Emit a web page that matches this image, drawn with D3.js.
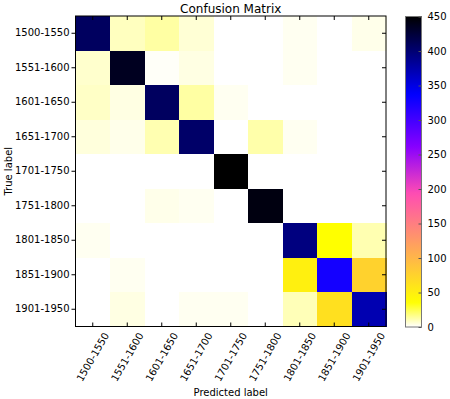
<!DOCTYPE html>
<html>
<head>
<meta charset="utf-8">
<script src="https://cdn.jsdelivr.net/npm/d3@7"></script>
<style>
    body { margin: 0; background: #fff; }
    svg { display: block; font-family: 'DejaVu Sans', sans-serif; }
    text { fill: #000; }
</style>
</head>
<body>
<svg width="450" height="399"></svg>
<script>
(function () {
    var labels = ['1500-1550', '1551-1600', '1601-1650', '1651-1700', '1701-1750',
        '1751-1800', '1801-1850', '1851-1900', '1901-1950'];

    // rows = true label, columns = predicted label
    var row1500 = [408, 9, 13, 6, 0, 0, 2, 0, 3];
    var row1551 = [7, 436, 1, 4, 0, 0, 2, 0, 0];
    var row1601 = [8, 4, 408, 13, 2, 0, 0, 0, 0];
    var row1651 = [5, 3, 11, 404, 0, 12, 2, 0, 0];
    var row1701 = [0, 0, 0, 0, 452, 0, 0, 0, 0];
    var row1751 = [0, 0, 3, 2, 0, 443, 0, 0, 0];
    var row1801 = [2, 0, 0, 0, 0, 0, 394, 36, 11];
    var row1851 = [0, 2, 0, 0, 0, 0, 49, 326, 76];
    var row1901 = [0, 4, 0, 2, 2, 0, 10, 63, 372];
    var rows = [row1500, row1551, row1601, row1651, row1701, row1751, row1801, row1851, row1901];

    var colorTicks = [0, 50, 100, 150, 200, 250, 300, 350, 400, 450];

    var svg = d3.select('svg');
    var left = 75.5, top = 16, size = 310.5;

    var x = d3.scaleBand().domain(labels).range([left, left + size]);
    var y = d3.scaleBand().domain(labels).range([top, top + size]);
    var cScale = d3.scaleLinear().domain([0, 450]).range([1, 0]).clamp(true);

    // matplotlib gnuplot2, reversed
    function clip(v) { return Math.max(0, Math.min(1, v)); }
    function gnuplot2(t) {
        var r = clip(t / 0.32 - 0.78125);
        var g = clip(2 * t - 0.84);
        var b;
        if (t < 0.25) b = 4 * t;
        else if (t < 0.92) b = -2 * t + 1.84;
        else b = t / 0.08 - 11.5;
        b = clip(b);
        return d3.rgb(r * 255, g * 255, b * 255).toString();
    }
    function color(v) { return gnuplot2(cScale(v)); }

    var cells = [];
    rows.forEach(function(row, i) {
        row.forEach(function(v, j) {
            cells.push({ t: labels[i], p: labels[j], v: v });
        });
    });

    svg.append('g').selectAll('rect')
        .data(cells)
        .enter()
        .append('rect')
        .attr('x', function(d) { return x(d.p); })
        .attr('y', function(d) { return y(d.t); })
        .attr('width', x.bandwidth() + 0.5)
        .attr('height', y.bandwidth() + 0.5)
        .attr('fill', function(d) { return color(d.v); })
        .attr('shape-rendering', 'crispEdges');

    // axes: ticks inside on top/right/bottom, outside on left
    var bottom = svg.append('g')
        .attr('transform', 'translate(0,' + (top + size) + ')')
        .call(d3.axisBottom(x).tickSizeInner(-4).tickSizeOuter(0).tickFormat(''));
    svg.append('g')
        .attr('transform', 'translate(0,' + top + ')')
        .call(d3.axisTop(x).tickSizeInner(-4).tickSizeOuter(0).tickFormat(''));
    svg.append('g')
        .attr('transform', 'translate(' + (left + size) + ',0)')
        .call(d3.axisRight(y).tickSizeInner(-4).tickSizeOuter(0).tickFormat(''));
    var leftAxis = svg.append('g')
        .attr('transform', 'translate(' + left + ',0)')
        .call(d3.axisLeft(y).tickSizeInner(4).tickSizeOuter(0).tickPadding(2));
    leftAxis.selectAll('text').style('font-size', '10px').style('font-family', 'DejaVu Sans');
    svg.selectAll('.domain').remove();
    svg.selectAll('.tick line').attr('stroke', '#000');

    svg.append('rect')
        .attr('x', left).attr('y', top)
        .attr('width', size).attr('height', size)
        .attr('fill', 'none')
        .attr('stroke', '#000')
        .attr('stroke-width', 1);

    // rotated x tick labels
    svg.append('g').selectAll('text')
        .data(labels)
        .enter()
        .append('text')
        .attr('transform', function(d) {
            return 'translate(' + (x(d) + x.bandwidth() / 2) + ',357) rotate(-60)';
        })
        .attr('text-anchor', 'middle')
        .attr('dy', '0.35em')
        .style('font-size', '10px')
        .text(function(d) { return d; });

    svg.append('text')
        .attr('x', left + size / 2).attr('y', 396)
        .attr('text-anchor', 'middle')
        .style('font-size', '10px')
        .text('Predicted label');

    svg.append('text')
        .attr('transform', 'translate(12,' + (top + size / 2) + ') rotate(-90)')
        .attr('text-anchor', 'middle')
        .style('font-size', '10px')
        .text('True label');

    svg.append('text')
        .attr('x', left + size / 2).attr('y', 13)
        .attr('text-anchor', 'middle')
        .style('font-size', '12px')
        .text('Confusion Matrix');

    // colorbar
    var cbX = 405.5, cbW = 16;
    var cbY = d3.scaleLinear().domain([0, 450]).range([327, 16.5]);
    var grad = svg.append('defs').append('linearGradient')
        .attr('id', 'cbar')
        .attr('x1', 0).attr('y1', 1).attr('x2', 0).attr('y2', 0);
    grad.selectAll('stop')
        .data(d3.range(0, 451, 5))
        .enter()
        .append('stop')
        .attr('offset', function(d) { return d / 450; })
        .attr('stop-color', function(d) { return color(d); });
    svg.append('rect')
        .attr('x', cbX).attr('y', cbY(450))
        .attr('width', cbW).attr('height', cbY(0) - cbY(450))
        .attr('fill', 'url(#cbar)')
        .attr('stroke', '#777')
        .attr('stroke-width', 1);
    var cbAxis = svg.append('g')
        .attr('transform', 'translate(' + (cbX + cbW) + ',0)')
        .call(d3.axisRight(cbY).tickValues(colorTicks).tickSizeInner(-3).tickSizeOuter(0).tickPadding(6));
    cbAxis.select('.domain').remove();
    cbAxis.selectAll('.tick line').attr('stroke', '#555');
    cbAxis.selectAll('text').style('font-size', '10px').style('font-family', 'DejaVu Sans');
}());
</script>
</body>
</html>
